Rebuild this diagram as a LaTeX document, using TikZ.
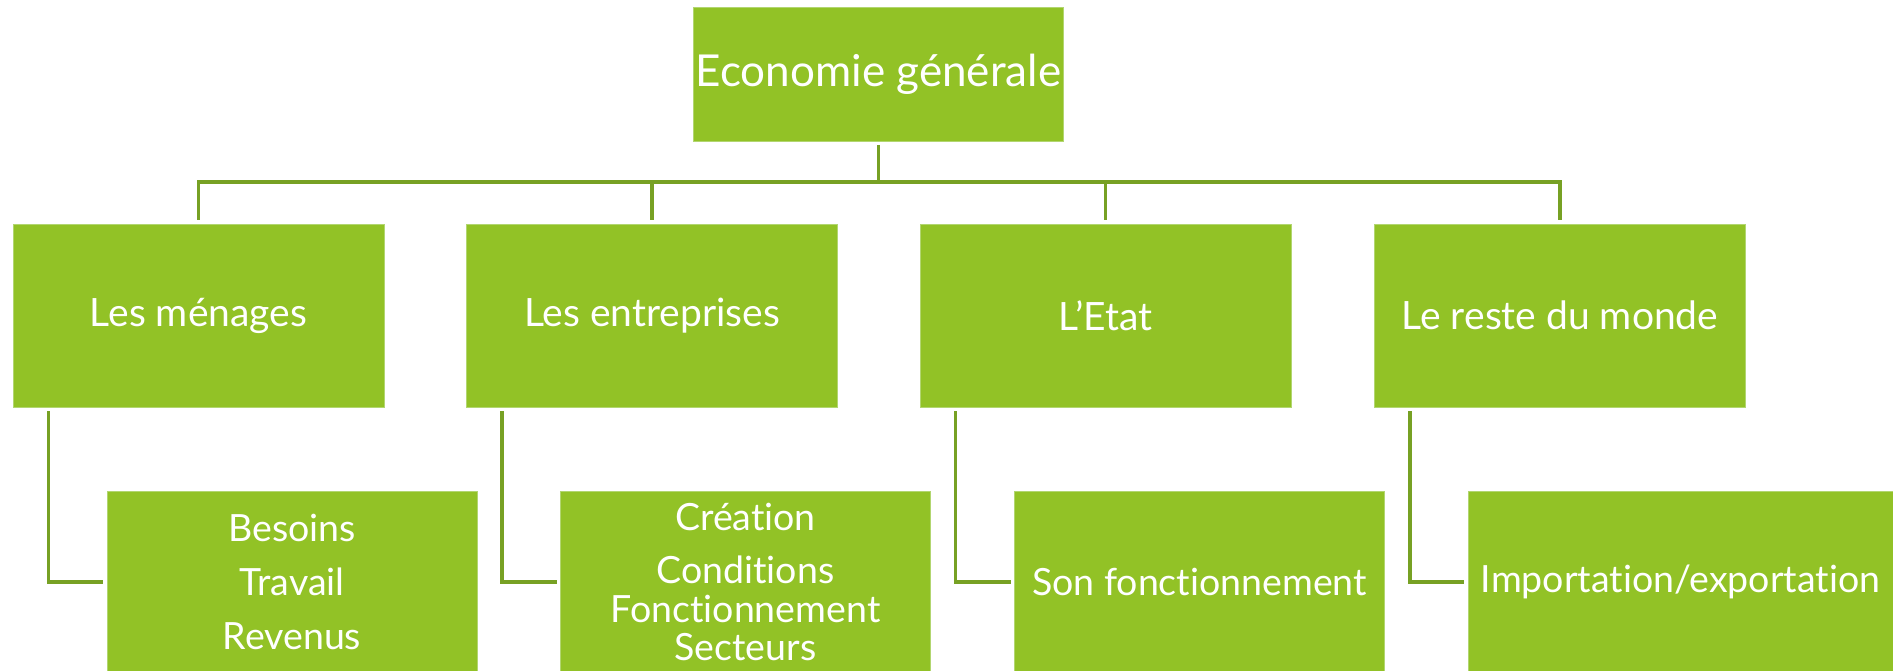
\documentclass[tikz,border=0pt]{standalone}
\usepackage{fontspec}
\setmainfont{Lato}[Ligatures={NoCommon}]
\usetikzlibrary{calc}
\definecolor{boxgreen}{RGB}{146,194,38}
\definecolor{linegreen}{RGB}{119,161,36}
\definecolor{edgegreen}{RGB}{178,214,112}
\begin{document}
\begin{tikzpicture}[x=1pt,y=-1pt,
  box/.style={rectangle, fill=boxgreen, draw=edgegreen, line width=0.8pt, text=white, align=center, inner sep=0pt, outer sep=4pt},
  topbox/.style={box, minimum width=370pt, minimum height=134pt, font=\fontsize{44}{50}\selectfont},
  midbox/.style={box, minimum width=371pt, minimum height=183pt, font=\fontsize{39}{46}\selectfont},
  subbox/.style={box, minimum width=370pt, minimum height=182pt, font=\fontsize{37.5}{38.5}\selectfont},
  conn/.style={draw=linegreen, line width=3.8pt}]
\useasboundingbox (0,0) rectangle (1893,671);
\fill[white] (0,0) rectangle (1893,671);
% top
\node[topbox] (top) at (878.5,74) {Economie générale};
% level 1
\node[midbox] (m1) at (198.5,315.5) {Les ménages};
\node[midbox] (m2) at (652,315.5) {Les entreprises};
\node[midbox] (m3) at (1105.5,315.5) {L’Etat};
\node[midbox] (m4) at (1560,315.5) {Le reste du monde};
% level 2
\node[subbox] (c1) at (292,582) {Besoins\\[15pt]Travail\\[16pt]Revenus};
\node[subbox] (c2) at (745.5,582) {Création\\[15pt]Conditions\\Fonctionnement\\Secteurs};
\node[subbox] (c3) at (1199.5,582) {Son fonctionnement};
\node[subbox, minimum width=425pt] (c4) at (1680.5,582) {Importation/exportation};
% connectors top -> level 1
\coordinate (bus) at (878.5,182);
\draw[conn] (top.south) -- (bus);
\foreach \m in {m1,m2,m3,m4}{
  \draw[conn] (bus) -| (\m.north);
}
% connectors level 1 -> level 2
\foreach \m/\c in {m1/c1,m2/c2,m3/c3,m4/c4}{
  \draw[conn] ($(\m.south west)+(39.5,0)$) |- (\c.west);
}
\end{tikzpicture}
\end{document}
